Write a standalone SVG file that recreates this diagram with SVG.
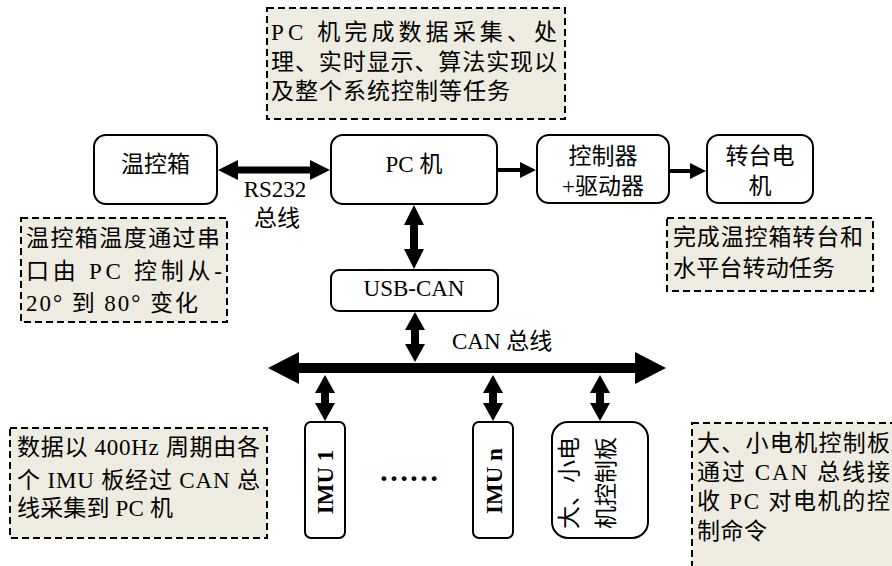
<svg xmlns="http://www.w3.org/2000/svg" width="892" height="566" viewBox="0 0 892 566">
<style>
  text{font-family:"Liberation Serif","Noto Sans CJK SC",serif;font-size:23px;fill:#000}
  .box{fill:#fff;stroke:#000;stroke-width:2}
  .note{fill:#EEECE1;stroke:#000;stroke-width:2;stroke-dasharray:7,4}
  .mid{text-anchor:middle}
  .b{font-weight:bold}
  .c{stroke:#000;fill:none}
</style>
<defs>
  <marker id="hBus" markerUnits="userSpaceOnUse" viewBox="0 0 31 32" markerWidth="31" markerHeight="32" refX="1" refY="16" orient="auto-start-reverse"><path d="M0,0L31,16L0,32z"/></marker>
  <marker id="hBig" markerUnits="userSpaceOnUse" viewBox="0 0 20 20" markerWidth="20" markerHeight="20" refX="1" refY="10" orient="auto-start-reverse"><path d="M0,0L20,10L0,20z"/></marker>
  <marker id="hMid" markerUnits="userSpaceOnUse" viewBox="0 0 18 20" markerWidth="18" markerHeight="20" refX="1" refY="10" orient="auto-start-reverse"><path d="M0,0L18,10L0,20z"/></marker>
  <marker id="hSm" markerUnits="userSpaceOnUse" viewBox="0 0 16 16" markerWidth="16" markerHeight="16" refX="1" refY="8" orient="auto-start-reverse"><path d="M0,0L16,8L0,16z"/></marker>
</defs>

<g id="note-pc">
  <rect class="note" x="267" y="8" width="298" height="111"/>
  <text x="271" y="40" textLength="286" lengthAdjust="spacing">PC 机完成数据采集、处</text>
  <text x="271" y="70" textLength="286" lengthAdjust="spacing">理、实时显示、算法实现以</text>
  <text x="271" y="99" textLength="239" lengthAdjust="spacing">及整个系统控制等任务</text>
</g>

<g id="wenkongxiang">
  <rect class="box" x="94" y="135" width="123" height="69" rx="12"/>
  <text class="mid" x="155.5" y="172">温控箱</text>
</g>
<g id="pc">
  <rect class="box" x="331" y="135" width="166" height="69" rx="12"/>
  <text class="mid" x="414" y="172">PC 机</text>
</g>
<g id="controller">
  <rect class="box" x="537" y="135" width="132" height="68" rx="12"/>
  <text class="mid" x="603" y="164">控制器</text>
  <text class="mid" x="603" y="194">+驱动器</text>
</g>
<g id="motor">
  <rect class="box" x="707" y="135" width="106" height="68" rx="12"/>
  <text class="mid" x="760" y="164">转台电</text>
  <text class="mid" x="760" y="194">机</text>
</g>

<g id="note-temp">
  <rect class="note" x="21" y="218" width="206" height="104"/>
  <text x="26" y="246" textLength="194" lengthAdjust="spacing">温控箱温度通过串</text>
  <text x="26" y="279" textLength="196" lengthAdjust="spacing">口由 PC 控制从-</text>
  <text x="26" y="311" textLength="172" lengthAdjust="spacing">20° 到 80° 变化</text>
</g>
<g id="note-motor">
  <rect class="note" x="667" y="218" width="206" height="73"/>
  <text x="673" y="245" textLength="190" lengthAdjust="spacing">完成温控箱转台和</text>
  <text x="673" y="276" textLength="162" lengthAdjust="spacing">水平台转动任务</text>
</g>

<g id="usbcan">
  <rect class="box" x="331" y="270" width="167" height="41" rx="8"/>
  <text class="mid" x="414" y="296">USB-CAN</text>
</g>

<g id="imu1">
  <rect class="box" x="305" y="422" width="40" height="116" rx="6"/>
  <text class="mid b" transform="translate(333,482) rotate(-90)">IMU 1</text>
</g>
<g id="imun">
  <rect class="box" x="473" y="422" width="40" height="116" rx="6"/>
  <text class="mid b" transform="translate(502,481) rotate(-90)">IMU n</text>
</g>
<g id="board">
  <rect class="box" x="552" y="422" width="96" height="116" rx="16"/>
  <text transform="translate(577,529) rotate(-90)">大、小电</text>
  <text transform="translate(614,529) rotate(-90)">机控制板</text>
</g>
<g id="dots">
  <text class="mid b" x="409" y="481" style="font-size:30px">……</text>
</g>

<g id="note-imu">
  <rect class="note" x="10" y="428" width="257" height="110"/>
  <text x="17" y="455" textLength="243" lengthAdjust="spacing">数据以 400Hz 周期由各</text>
  <text x="17" y="488" textLength="243" lengthAdjust="spacing">个 IMU 板经过 CAN 总</text>
  <text x="17" y="516" textLength="156" lengthAdjust="spacing">线采集到 PC 机</text>
</g>
<g id="note-board">
  <rect class="note" x="692" y="423" width="215" height="160"/>
  <text x="697" y="451" textLength="193" lengthAdjust="spacing">大、小电机控制板</text>
  <text x="697" y="480" textLength="193" lengthAdjust="spacing">通过 CAN 总线接</text>
  <text x="697" y="509" textLength="193" lengthAdjust="spacing">收 PC 对电机的控</text>
  <text x="697" y="539" textLength="70" lengthAdjust="spacing">制命令</text>
</g>

<g id="connectors">
  <line class="c" x1="237" y1="170" x2="311" y2="170" stroke-width="7" marker-start="url(#hBig)" marker-end="url(#hBig)"/>
  <line class="c" x1="497" y1="170" x2="521" y2="170" stroke-width="4" marker-end="url(#hSm)"/>
  <line class="c" x1="669" y1="171" x2="691" y2="171" stroke-width="4" marker-end="url(#hSm)"/>
  <line class="c" x1="414" y1="224" x2="414" y2="250" stroke-width="8" marker-start="url(#hBig)" marker-end="url(#hBig)"/>
  <line class="c" x1="415" y1="329" x2="415" y2="345" stroke-width="8" marker-start="url(#hMid)" marker-end="url(#hMid)"/>
  <line class="c" x1="298" y1="368" x2="636" y2="368" stroke-width="10" marker-start="url(#hBus)" marker-end="url(#hBus)"/>
  <line class="c" x1="325" y1="392" x2="325" y2="404" stroke-width="8" marker-start="url(#hMid)" marker-end="url(#hMid)"/>
  <line class="c" x1="493" y1="392" x2="493" y2="404" stroke-width="8" marker-start="url(#hMid)" marker-end="url(#hMid)"/>
  <line class="c" x1="600" y1="392" x2="600" y2="404" stroke-width="8" marker-start="url(#hMid)" marker-end="url(#hMid)"/>
  <text class="mid" x="275" y="197">RS232</text>
  <text class="mid" x="277" y="226">总线</text>
  <text x="452" y="349">CAN 总线</text>
</g>
</svg>
